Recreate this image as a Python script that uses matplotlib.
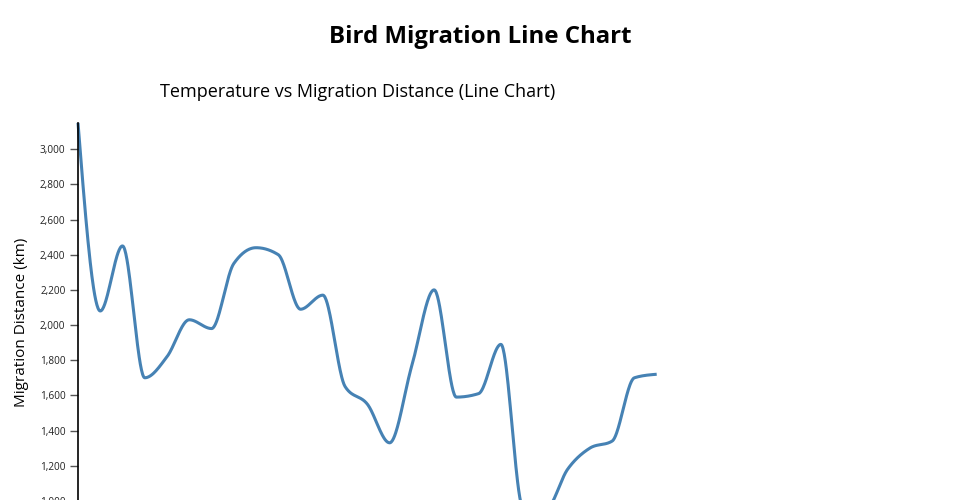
"""
Bird migration line chart: temperature vs migration distance.
Saves out.png (960x500).
"""

import matplotlib.pyplot as plt
import numpy as np
from matplotlib.ticker import FuncFormatter

plt.rcParams["font.family"] = ["Open Sans", "DejaVu Sans"]

# ── Data ──────────────────────────────────────────────────────────────────────
temperature = [-5, -4, -3, -2, -1, 0, 1, 2, 3, 4, 5, 6, 7, 8,
               9, 10, 11, 12, 13, 14, 15, 16, 17, 18, 19, 20, 21]
distance_km = [3150, 2080, 2450, 1700, 1820, 2030, 1980, 2350, 2440, 2400,
               2090, 2170, 1650, 1550, 1330, 1770, 2200, 1590, 1610, 1890,
               960, 950, 1180, 1300, 1340, 1700, 1720]
y_ticks = [1000, 1200, 1400, 1600, 1800, 2000, 2200, 2400, 2600, 2800, 3000]

LINE_COLOR = "#4682b4"


# ── Monotone cubic (same idea as d3.curveMonotoneX) ───────────────────────────
def monotone_curve(x, y, per_seg=40):
    x = np.asarray(x, float)
    y = np.asarray(y, float)
    h = np.diff(x)
    s = np.diff(y) / h
    m = np.zeros_like(y)
    for i in range(1, len(y) - 1):
        s0, s1, h0, h1 = s[i - 1], s[i], h[i - 1], h[i]
        p = (s0 * h1 + s1 * h0) / (h0 + h1)
        m[i] = (np.sign(s0) + np.sign(s1)) * min(abs(s0), abs(s1), 0.5 * abs(p))
    m[0] = (3 * s[0] - m[1]) / 2
    m[-1] = (3 * s[-1] - m[-2]) / 2
    xs, ys = [], []
    for i in range(len(h)):
        t = np.linspace(0, 1, per_seg, endpoint=(i == len(h) - 1))
        h00 = 2 * t**3 - 3 * t**2 + 1
        h10 = t**3 - 2 * t**2 + t
        h01 = -2 * t**3 + 3 * t**2
        h11 = t**3 - t**2
        xs.append(x[i] + t * h[i])
        ys.append(h00 * y[i] + h10 * h[i] * m[i] + h01 * y[i + 1] + h11 * h[i] * m[i + 1])
    return np.concatenate(xs), np.concatenate(ys)


# ── Plot ──────────────────────────────────────────────────────────────────────
fig = plt.figure(figsize=(9.6, 5.0), dpi=100)

# plot area runs past the bottom of the canvas, as in the original
ax = fig.add_axes([78 / 960, -9.6 / 500, 578.7 / 960, 386.7 / 500])

cx, cy = monotone_curve(temperature, distance_km)
ax.plot(cx, cy, color=LINE_COLOR, lw=2.2, clip_on=False, solid_capstyle="butt")

ax.set_xlim(temperature[0], temperature[-1])
ax.set_ylim(min(distance_km), max(distance_km))
ax.set_yticks(y_ticks)
ax.yaxis.set_major_formatter(FuncFormatter(lambda v, _: f"{v:,.0f}"))
ax.tick_params(axis="y", length=6, width=1, color="#555555", labelsize=7.2,
               labelcolor="#222222", pad=3)
ax.set_xticks([])

for side in ("top", "right", "bottom"):
    ax.spines[side].set_visible(False)
ax.spines["left"].set_color("black")
ax.spines["left"].set_linewidth(1.2)

fig.text(0.5, 1 - 37 / 500, "Bird Migration Line Chart", ha="center", va="center",
         fontsize=17.3, fontweight="bold")
fig.text(358 / 960, 1 - 92 / 500, "Temperature vs Migration Distance (Line Chart)",
         ha="center", va="center", fontsize=13)
fig.text(22 / 960, 1 - 322 / 500, "Migration Distance (km)", ha="center", va="center",
         rotation=90, fontsize=11)

fig.savefig("out.png", dpi=100)
